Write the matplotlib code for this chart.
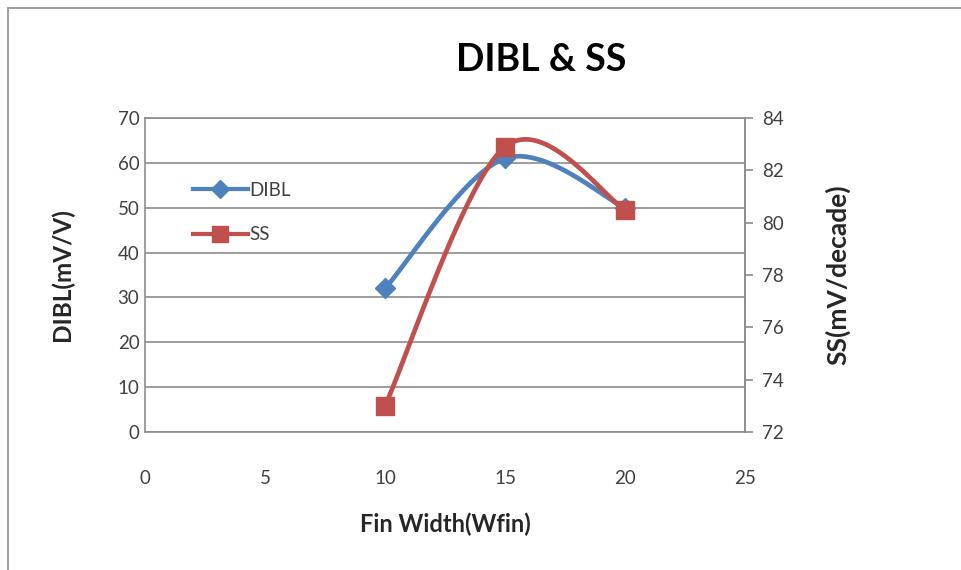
import numpy as np
import matplotlib
matplotlib.use("Agg")
import matplotlib.pyplot as plt
from matplotlib.patches import Rectangle

plt.rcParams['font.family'] = ['Lato', 'DejaVu Sans']

# Data
fin_width = [10, 15, 20]
dibl = [32, 61, 50]          # mV/V
ss = [73, 82.9, 80.5]        # mV/decade
x_ticks = [0, 5, 10, 15, 20, 25]
left_ticks = [0, 10, 20, 30, 40, 50, 60, 70]
right_ticks = [72, 74, 76, 78, 80, 82, 84]

BLUE = '#4F81BD'
RED = '#C0504D'
GRID = '#8C8C8C'
TEXT = '#404040'


def smooth(xs, ys, n=60):
    """Catmull-Rom style Bezier smoothing through the given points."""
    pts = np.column_stack([xs, ys]).astype(float)
    out = []
    for i in range(len(pts) - 1):
        p0 = pts[i - 1] if i > 0 else pts[i]
        p1 = pts[i]
        p2 = pts[i + 1]
        p3 = pts[i + 2] if i + 2 < len(pts) else pts[i + 1]
        c1 = p1 + (p2 - p0) / 6.0
        c2 = p2 - (p3 - p1) / 6.0
        t = np.linspace(0, 1, n)[:, None]
        seg = ((1 - t) ** 3) * p1 + 3 * ((1 - t) ** 2) * t * c1 + 3 * (1 - t) * t ** 2 * c2 + t ** 3 * p2
        out.append(seg if i == 0 else seg[1:])
    out = np.vstack(out)
    return out[:, 0], out[:, 1]


fig = plt.figure(figsize=(9.61, 5.70), dpi=100)
fig.patch.set_facecolor('white')

# Chart area border
fig.add_artist(Rectangle((8 / 961, -0.05), 1.2, (570 - 8) / 570 + 0.05,
                         transform=fig.transFigure, fill=False,
                         edgecolor='#A0A0A0', linewidth=1.5))

ax = fig.add_axes([145 / 961, (570 - 432) / 570, 600 / 961, 314 / 570])
ax2 = ax.twinx()

ax.set_xlim(0, 25)
ax.set_ylim(0, 70)
ax2.set_ylim(72, 84)
ax.set_xticks(x_ticks)
ax.set_yticks(left_ticks)
ax2.set_yticks(right_ticks)

ax.grid(axis='y', color=GRID, linewidth=1.2)
ax.set_axisbelow(True)
for sp in ax.spines.values():
    sp.set_color(GRID)
    sp.set_linewidth(1.2)
for sp in ax2.spines.values():
    sp.set_visible(False)
ax2.spines['right'].set_visible(True)
ax2.spines['right'].set_color(GRID)
ax2.spines['right'].set_linewidth(1.2)

ax.tick_params(axis='y', length=0, pad=4, labelsize=13.5, labelcolor=TEXT)
ax.tick_params(axis='x', length=0, pad=27, labelsize=13.5, labelcolor=TEXT)
ax2.tick_params(axis='y', length=6, width=1.2, color=GRID, pad=6,
                labelsize=13.5, labelcolor=TEXT)

# Smoothed series
sx, sy = smooth(fin_width, dibl)
ax.plot(sx, sy, color=BLUE, linewidth=3.4, solid_capstyle='round', zorder=3)
ax.plot(fin_width, dibl, linestyle='none', marker='D', markersize=10,
        color=BLUE, zorder=4)

rx, ry = smooth(fin_width, ss)
ax2.plot(rx, ry, color=RED, linewidth=3.4, solid_capstyle='round', zorder=3)
ax2.plot(fin_width, ss, linestyle='none', marker='s', markersize=13,
         color=RED, zorder=4)

# Legend
h1, = ax.plot([], [], color=BLUE, linewidth=3, marker='D', markersize=9)
h2, = ax.plot([], [], color=RED, linewidth=3, marker='s', markersize=12)
leg = ax.legend([h1, h2], ['DIBL', 'SS'], loc='upper left',
                bbox_to_anchor=(0.068, 0.82), frameon=False,
                fontsize=13.5, handlelength=2.9, handletextpad=0.1,
                labelspacing=1.45, borderaxespad=0)
for t in leg.get_texts():
    t.set_color(TEXT)

ax.set_xlabel('Fin Width(Wfin)', fontsize=17, fontweight='bold', labelpad=19, color='#262626')
ax.set_ylabel('DIBL(mV/V)', fontsize=17.5, fontweight='bold', labelpad=31, color='#262626')
ax2.set_ylabel('SS(mV/decade)', fontsize=19, fontweight='bold', labelpad=30, color='#262626')

fig.text(541 / 961, 1 - 60 / 570, 'DIBL & SS', fontsize=27, fontweight='bold',
         ha='center', va='center', color='black')

fig.savefig('out.png', dpi=100)
